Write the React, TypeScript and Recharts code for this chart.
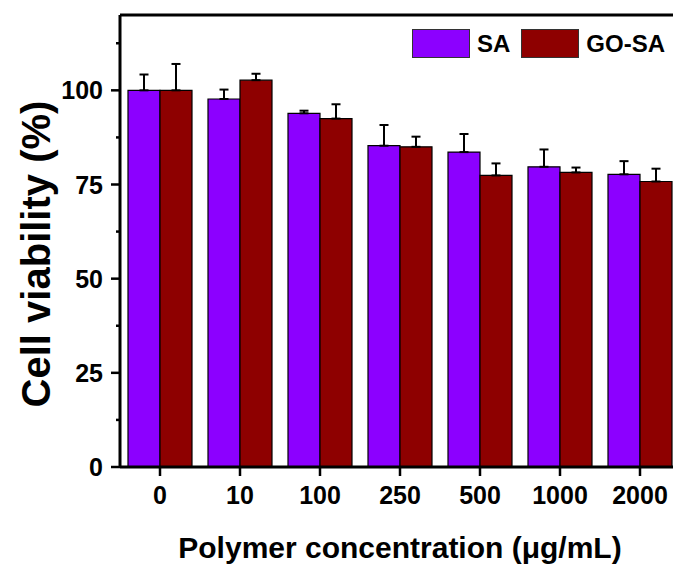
import React from "react";
import {
  BarChart,
  Bar,
  XAxis,
  YAxis,
  ErrorBar,
  Legend,
  ReferenceLine,
  Label,
} from "recharts";

const concentrations = ["0", "10", "100", "250", "500", "1000", "2000"];
const saValues = [100, 97.7, 93.9, 85.3, 83.6, 79.7, 77.7];
const saErrors = [4.2, 2.5, 0.7, 5.5, 4.8, 4.6, 3.5];
const goSaValues = [100, 102.7, 92.5, 85.0, 77.4, 78.2, 75.8];
const goSaErrors = [7.0, 1.7, 3.8, 2.7, 3.2, 1.3, 3.4];
const yTicks = [0, 12.5, 25, 37.5, 50, 62.5, 75, 87.5, 100, 112.5];

const FONT = '"Liberation Sans", Arial, sans-serif';
const SA_COLOR = "#8C00FF";
const GO_COLOR = "#8E0000";

const data = concentrations.map((c, i) => ({
  conc: c,
  SA: saValues[i],
  saErr: [0, saErrors[i]],
  "GO-SA": goSaValues[i],
  goErr: [0, goSaErrors[i]],
}));

function YTick(props: any) {
  const { x, y, payload } = props;
  const major = payload.value % 25 === 0;
  const axisX = x + 17;
  return (
    <g>
      <line
        x1={axisX - (major ? 9 : 4)}
        x2={axisX}
        y1={y}
        y2={y}
        stroke="#000"
        strokeWidth={2.5}
      />
      {major && (
        <text
          x={x}
          y={y}
          textAnchor="end"
          dominantBaseline="central"
          fontFamily={FONT}
          fontWeight="bold"
          fontSize={25}
          fill="#000"
        >
          {payload.value}
        </text>
      )}
    </g>
  );
}

function renderLegend() {
  const items = [
    { name: "SA", color: SA_COLOR },
    { name: "GO-SA", color: GO_COLOR },
  ];
  return (
    <div style={{ display: "flex", alignItems: "center" }}>
      {items.map((it) => (
        <div
          key={it.name}
          style={{ display: "flex", alignItems: "center", marginRight: 11 }}
        >
          <div
            style={{
              width: 56,
              height: 27,
              background: it.color,
              border: "1px solid #333",
              marginRight: 7,
            }}
          />
          <span
            style={{
              fontFamily: FONT,
              fontWeight: "bold",
              fontSize: 24,
              color: "#000",
            }}
          >
            {it.name}
          </span>
        </div>
      ))}
    </div>
  );
}

export default function App() {
  return (
    <div
      style={{
        position: "fixed",
        left: 0,
        top: 0,
        width: 673,
        height: 565,
        overflow: "hidden",
        background: "#fff",
      }}
    >
      <BarChart
        width={700}
        height={565}
        data={data}
        margin={{ top: 15, right: 20, bottom: 0, left: 0 }}
        barCategoryGap={8}
        barGap={0}
      >
        <XAxis
          dataKey="conc"
          height={98}
          axisLine={{ stroke: "#000", strokeWidth: 3 }}
          tickLine={{ stroke: "#000", strokeWidth: 2.5 }}
          tickSize={9}
          tickMargin={10}
          tick={{
            fill: "#000",
            fontFamily: FONT,
            fontWeight: "bold",
            fontSize: 25,
          }}
        >
          <Label
            content={() => (
              <text
                x={400}
                y={558}
                textAnchor="middle"
                fontFamily={FONT}
                fontWeight="bold"
                fontSize={30}
                fill="#000"
              >
                Polymer concentration (μg/mL)
              </text>
            )}
          />
        </XAxis>
        <YAxis
          width={120}
          domain={[0, 120]}
          ticks={yTicks}
          interval={0}
          axisLine={{ stroke: "#000", strokeWidth: 3 }}
          tickLine={false}
          tickSize={9}
          tickMargin={8}
          tick={<YTick />}
        >
          <Label
            content={() => (
              <text
                x={36}
                y={254}
                transform="rotate(-90 36 254)"
                textAnchor="middle"
                dominantBaseline="central"
                fontFamily={FONT}
                fontWeight="bold"
                fontSize={40}
                fill="#000"
              >
                Cell viability (%)
              </text>
            )}
          />
        </YAxis>
        <ReferenceLine y={120} stroke="#000" strokeWidth={3} />
        <Legend
          content={renderLegend}
          layout="horizontal"
          verticalAlign="middle"
          align="center"
          wrapperStyle={{ position: "absolute", top: 29, left: 412, width: 300 }}
        />
        <Bar
          dataKey="SA"
          fill={SA_COLOR}
          stroke="#000"
          strokeWidth={1.2}
          isAnimationActive={false}
        >
          <ErrorBar
            dataKey="saErr"
            width={4.5}
            stroke="#000"
            strokeWidth={2}
            direction="y"
          />
        </Bar>
        <Bar
          dataKey="GO-SA"
          fill={GO_COLOR}
          stroke="#000"
          strokeWidth={1.2}
          isAnimationActive={false}
        >
          <ErrorBar
            dataKey="goErr"
            width={4.5}
            stroke="#000"
            strokeWidth={2}
            direction="y"
          />
        </Bar>
      </BarChart>
    </div>
  );
}
